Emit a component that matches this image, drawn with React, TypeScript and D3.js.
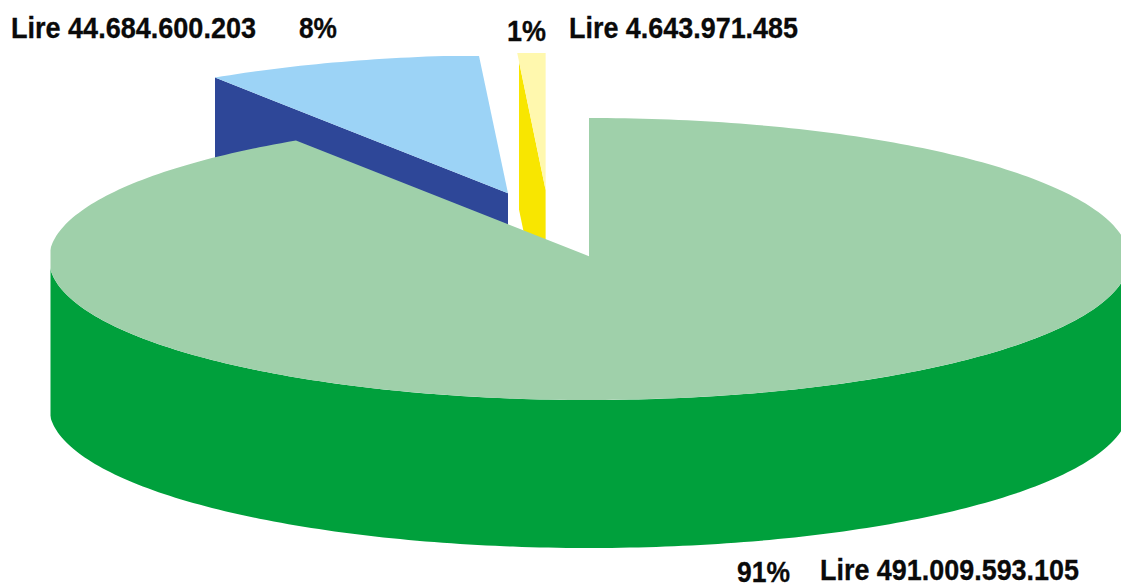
import React from "react";
import * as d3 from "d3";

const W = 1121;
const H = 583;

const sliceValues = [491009593105, 44684600203, 4643971485];
const percentLabels = ["91%", "8%", "1%"];
const amountLabels = ["Lire 491.009.593.105", "Lire 44.684.600.203", "Lire 4.643.971.485"];
const topColors = ["#9FD0AA", "#9CD3F6", "#FFF8AE"];
const sideColors = ["#00A03C", "#2E4798", "#F8E600"];

const cx = 589;
const cy = 259;
const rx = 540;
const ry = 141;
const depth = 148;

// Offsets of the slices: apex and rim differ very slightly in the source drawing.
const apexOffsets: [number, number][] = [[0, -2.8], [-81, -65.7], [-43.4, -69]];
const rimOffsets: [number, number][] = [[0, 0], [-81, -63], [-43.4, -69]];

const labelBoxes = [
  { text: amountLabels[1], x: 11, y: 38, w: 245 },
  { text: percentLabels[1], x: 299, y: 38, w: 38 },
  { text: percentLabels[2], x: 507, y: 41, w: 39 },
  { text: amountLabels[2], x: 569, y: 38, w: 229 },
  { text: percentLabels[0], x: 737, y: 582, w: 53 },
  { text: amountLabels[0], x: 820, y: 580, w: 259 },
];

const arcs = d3.pie<number>().sort(null).startAngle(0).endAngle(2 * Math.PI)(sliceValues);
const lineGen = d3.line<[number, number]>();

function rim(a0: number, a1: number, ox: number, oy: number): [number, number][] {
  const n = Math.max(2, Math.ceil(Math.abs(a1 - a0) * 60));
  return d3.range(n + 1).map((i) => {
    const a = a0 + ((a1 - a0) * i) / n;
    return [cx + ox + rx * Math.sin(a), cy + oy - ry * Math.cos(a)] as [number, number];
  });
}

function topPath(i: number): string {
  const [ax, ay] = apexOffsets[i];
  const [rxo, ryo] = rimOffsets[i];
  const pts = rim(arcs[i].startAngle, arcs[i].endAngle, rxo, ryo);
  return lineGen([[cx + ax, cy + ay], ...pts])! + "Z";
}

function radialWall(i: number, a: number): string {
  const [ax, ay] = apexOffsets[i];
  const [rxo, ryo] = rimOffsets[i];
  const p = rim(a, a, rxo, ryo)[0];
  const apex: [number, number] = [cx + ax, cy + ay];
  return lineGen([apex, p, [p[0], p[1] + depth], [apex[0], apex[1] + depth]])! + "Z";
}

function outerWall(): string {
  const up = rim(Math.PI / 2, (3 * Math.PI) / 2, 0, 0);
  const down = up.map(([x, y]) => [x, y + depth] as [number, number]).reverse();
  return lineGen([...up, ...down])! + "Z";
}

export default function App() {
  return (
    <svg
      width={W}
      height={H}
      viewBox={`0 0 ${W} ${H}`}
      style={{ position: "absolute", left: 0, top: 0, display: "block", background: "#fff" }}
    >
      <defs>
        <clipPath id="mainClip">
          <rect x={50.5} y={0} width={W} height={H} />
        </clipPath>
        <clipPath id="blueClip">
          <rect x={215} y={56} width={W} height={H} />
        </clipPath>
        <clipPath id="yellowTopClip">
          <rect x={0} y={53} width={W} height={H} />
        </clipPath>
        <clipPath id="yellowWallClip">
          <rect x={519} y={53} width={W} height={H} />
        </clipPath>
      </defs>

      <path d={radialWall(2, arcs[2].startAngle)} fill={sideColors[2]} clipPath="url(#yellowWallClip)" />
      <path d={topPath(2)} fill={topColors[2]} clipPath="url(#yellowTopClip)" />
      <path d={radialWall(1, arcs[1].startAngle)} fill={sideColors[1]} clipPath="url(#blueClip)" />
      <path d={topPath(1)} fill={topColors[1]} clipPath="url(#blueClip)" />
      <g clipPath="url(#mainClip)">
        <path d={outerWall()} fill={sideColors[0]} />
        <path d={topPath(0)} fill={topColors[0]} />
      </g>

      {labelBoxes.map((l) => (
        <text
          key={l.text}
          x={l.x}
          y={l.y}
          textLength={l.w}
          lengthAdjust="spacingAndGlyphs"
          fontFamily="'Liberation Sans',sans-serif"
          fontWeight={700}
          fontSize={29}
          fill="#0a0a0a"
          stroke="#0a0a0a"
          strokeWidth={0.3}
        >
          {l.text}
        </text>
      ))}
    </svg>
  );
}
